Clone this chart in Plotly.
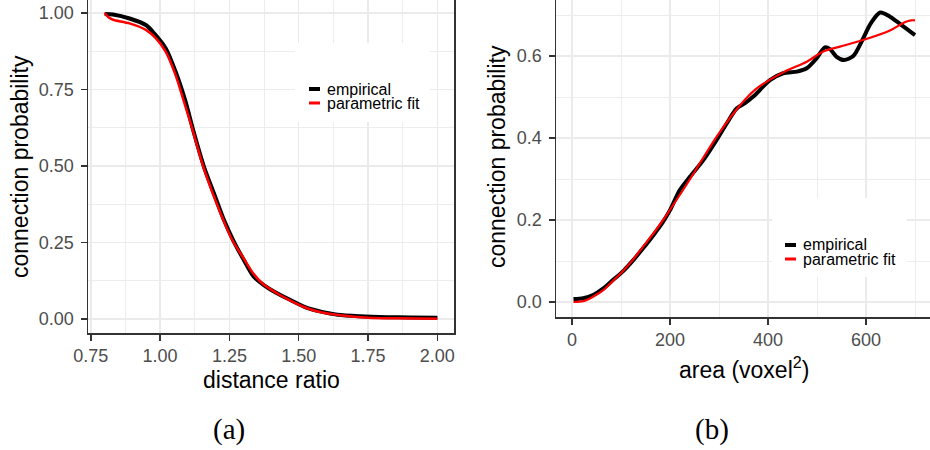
import plotly.graph_objects as go

# ---- (a) connection probability vs distance ratio ----
ratio_emp = [0.80, 0.83, 0.89, 0.95, 0.98, 1.02, 1.056, 1.09, 1.12, 1.158, 1.194, 1.23,
             1.266, 1.30, 1.338, 1.374, 1.42, 1.47, 1.53, 1.58, 1.64, 1.72, 1.82, 1.90, 2.00]
prob_emp_a = [0.997, 0.995, 0.982, 0.960, 0.932, 0.885, 0.808, 0.716, 0.615, 0.498, 0.411, 0.324,
              0.253, 0.196, 0.138, 0.111, 0.085, 0.062, 0.036, 0.024, 0.014, 0.009, 0.006, 0.005, 0.004]

ratio_fit = [0.80, 0.815, 0.83, 0.89, 0.95, 0.985, 1.02, 1.056, 1.086, 1.11, 1.155, 1.19, 1.225,
             1.26, 1.30, 1.335, 1.37, 1.42, 1.47, 1.53, 1.58, 1.65, 1.75, 1.85, 2.00]
prob_fit_a = [1.0, 0.985, 0.978, 0.966, 0.944, 0.917, 0.874, 0.797, 0.71, 0.64, 0.50, 0.41, 0.33,
              0.258, 0.20, 0.15, 0.115, 0.085, 0.06, 0.035, 0.022, 0.012, 0.004, 0.002, 0.001]

# ---- (b) connection probability vs area ----
area_emp = [3, 23, 43, 64, 84, 105, 125, 145, 166, 186, 200, 220, 241, 268, 295, 316, 336, 353,
            370, 404, 431, 459, 479, 499, 516, 527, 540, 555, 574, 591, 610, 629, 649, 670, 700]
prob_emp_b = [0.007, 0.009, 0.017, 0.033, 0.054, 0.076, 0.102, 0.131, 0.163, 0.196, 0.224, 0.273,
              0.306, 0.346, 0.395, 0.436, 0.472, 0.485, 0.501, 0.541, 0.558, 0.562, 0.570, 0.594,
              0.621, 0.616, 0.598, 0.590, 0.600, 0.635, 0.680, 0.706, 0.696, 0.678, 0.651]

area_fit = [3, 23, 43, 64, 84, 105, 125, 145, 166, 186, 200, 241, 295, 343, 377, 431, 479, 513,
            547, 594, 650, 680, 692, 700]
prob_fit_b = [0.0, 0.002, 0.013, 0.029, 0.052, 0.077, 0.104, 0.135, 0.167, 0.2, 0.225, 0.30, 0.403,
              0.480, 0.521, 0.560, 0.586, 0.611, 0.623, 0.639, 0.663, 0.683, 0.687, 0.687]

legend_labels = ["empirical", "parametric fit"]
panel_labels = ["(a)", "(b)"]

W, H = 930, 450
SANS = "Liberation Sans, Arial, sans-serif"
GRID = "#EBEBEB"


def px(x):
    return x / W


def py(y):
    return 1 - y / H


fig = go.Figure()

# 曲线
fig.add_trace(go.Scatter(x=ratio_emp, y=prob_emp_a, mode="lines", xaxis="x", yaxis="y",
                         line=dict(color="black", width=4, shape="spline", smoothing=0.8)))
fig.add_trace(go.Scatter(x=ratio_fit, y=prob_fit_a, mode="lines", xaxis="x", yaxis="y",
                         line=dict(color="#FF0000", width=2.5, shape="spline", smoothing=0.8)))
fig.add_trace(go.Scatter(x=area_emp, y=prob_emp_b, mode="lines", xaxis="x2", yaxis="y2",
                         line=dict(color="black", width=4, shape="spline", smoothing=0.8)))
fig.add_trace(go.Scatter(x=area_fit, y=prob_fit_b, mode="lines", xaxis="x2", yaxis="y2",
                         line=dict(color="#FF0000", width=2.2, shape="spline", smoothing=0.8)))

axis_common = dict(
    showline=True, linecolor="#333333", linewidth=1.5,
    ticks="outside", ticklen=6, tickwidth=1.5, tickcolor="#333333",
    tickfont=dict(family=SANS, size=18, color="#4D4D4D"),
    showgrid=True, gridcolor=GRID, gridwidth=1.5,
    zeroline=False, fixedrange=True, automargin=False,
)

fig.update_layout(
    width=W, height=H,
    margin=dict(l=0, r=0, t=0, b=0),
    paper_bgcolor="white", plot_bgcolor="white",
    showlegend=False,
    hovermode=False,
    xaxis=dict(axis_common, domain=[px(88), px(454)], range=[0.74, 2.06],
               tick0=0.75, dtick=0.25, tickformat=".2f", anchor="y",
               minor=dict(dtick=0.125, showgrid=True, gridcolor=GRID, gridwidth=0.9, ticks="")),
    yaxis=dict(axis_common, domain=[py(333), 1], range=[-0.0458, 1.0425],
               tick0=0, dtick=0.25, tickformat=".2f", anchor="x", mirror=True,
               ticklabelstandoff=3,
               minor=dict(dtick=0.125, showgrid=True, gridcolor=GRID, gridwidth=0.9, ticks="")),
    xaxis2=dict(axis_common, domain=[px(556), 1], range=[-32.7, 730.6],
                tick0=0, dtick=200, anchor="y2",
                minor=dict(dtick=100, showgrid=True, gridcolor=GRID, gridwidth=0.9, ticks="")),
    yaxis2=dict(axis_common, domain=[py(317), 1], range=[-0.0366, 0.7366],
                tick0=0, dtick=0.2, tickformat=".1f", anchor="x2",
                ticklabelstandoff=3,
                minor=dict(dtick=0.1, showgrid=True, gridcolor=GRID, gridwidth=0.9, ticks="")),
)

# 坐标轴标题
titles = [
    ("connection probability", 20, 167, -90),
    ("distance ratio", 271, 380, 0),
    ("connection probability", 497, 157, -90),
    ("area (voxel<sup>2</sup>)", 744, 368, 0),
]
for text, x, y, ang in titles:
    fig.add_annotation(text=text, x=px(x), y=py(y), xref="paper", yref="paper",
                       xanchor="center", yanchor="middle", textangle=ang, showarrow=False,
                       font=dict(family=SANS, size=23, color="black"))

# 手工图例 (ggplot 风格短线)
legend_boxes = [(295, 43, 430, 122, 309, 89), (772, 198, 907, 277, 785, 245)]
for x0, y0, x1, y1, kx, ky in legend_boxes:
    fig.add_shape(type="rect", xref="paper", yref="paper", x0=px(x0), x1=px(x1),
                  y0=py(y1), y1=py(y0), fillcolor="white", line=dict(width=0), layer="above")
    for i, (label, color, lw) in enumerate(zip(legend_labels, ["black", "#FF0000"], [4, 3])):
        yy = ky + 14 * i
        fig.add_shape(type="line", xref="paper", yref="paper", x0=px(kx), x1=px(kx + 11),
                      y0=py(yy), y1=py(yy), line=dict(color=color, width=lw), layer="above")
        fig.add_annotation(text=label, x=px(kx + 17), y=py(yy), xref="paper", yref="paper",
                           xanchor="left", yanchor="middle", showarrow=False, borderpad=0,
                           font=dict(family=SANS, size=16, color="black"))

# 子图标签
for label, x in zip(panel_labels, [229, 712]):
    fig.add_annotation(text=label, x=px(x), y=py(429), xref="paper", yref="paper",
                       xanchor="center", yanchor="middle", showarrow=False,
                       font=dict(family="Liberation Serif, serif", size=29, color="black"))

# 去掉页面默认 8px 边距, 让图贴齐窗口
fig.write_html("out.html", config={"displayModeBar": False, "staticPlot": True},
               post_script="document.body.style.margin='0';")
